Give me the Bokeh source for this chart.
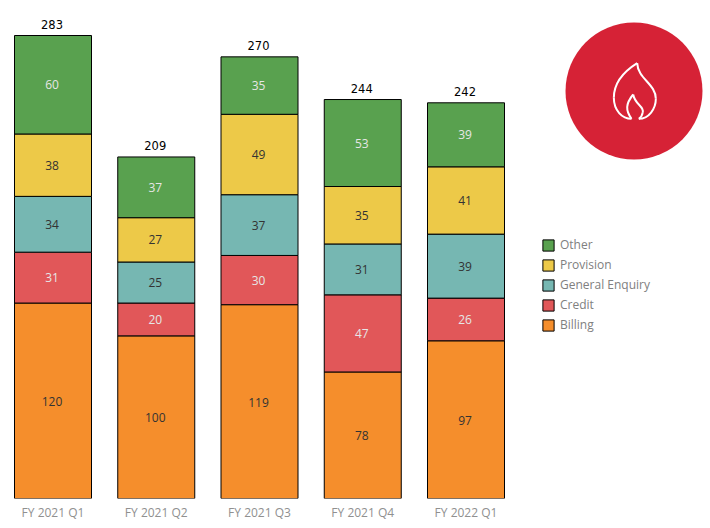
from bokeh.plotting import figure
from bokeh.models import ColumnDataSource, Range1d, FixedTicker, Legend, LegendItem
from bokeh.core.properties import value
from bokeh.embed import file_html
from bokeh.resources import INLINE

quarters = ["FY 2021 Q1", "FY 2021 Q2", "FY 2021 Q3", "FY 2021 Q4", "FY 2022 Q1"]
billing = [120, 100, 119, 78, 97]
credit = [31, 20, 30, 47, 26]
general_enquiry = [34, 25, 37, 31, 39]
provision = [38, 27, 49, 35, 41]
other = [60, 37, 35, 53, 39]
series_names = ["Billing", "Credit", "General Enquiry", "Provision", "Other"]
series_colors = ["#F58E2C", "#E15759", "#76B7B2", "#EDC948", "#59A14F"]
label_colors = ["#333333", "#E6E6E6", "#333333", "#333333", "#E6E6E6"]
series = [billing, credit, general_enquiry, provision, other]

FONT = "Open Sans"
W, H = 710, 528
FRAME_H = 498
BASE = 499.5               # px of baseline (its line falls just below the frame)
PX_X = 103.25              # px per category
X0 = 52.5                  # px of first category
PX_Y = 1.6413              # px per unit

def dx(px):
    return (px - X0) / PX_X

def dy(py):
    return (BASE - py) / PX_Y

p = figure(width=W, height=H, frame_width=W, frame_height=FRAME_H, output_backend="svg", toolbar_location=None,
           x_range=Range1d(dx(0), dx(W)), y_range=Range1d(dy(FRAME_H), dy(0)),
           min_border=0, outline_line_color=None)
p.grid.visible = False
p.yaxis.visible = False
ax = p.xaxis[0]
ax.ticker = FixedTicker(ticks=list(range(len(quarters))))
ax.major_label_overrides = {i: q for i, q in enumerate(quarters)}
ax.axis_line_color = None
ax.major_tick_line_color = None
ax.minor_tick_line_color = None
ax.major_label_text_font = FONT
ax.major_label_text_font_size = "12px"
ax.major_label_text_color = "#909090"
ax.major_label_standoff = -1

xs = list(range(len(quarters)))
bottom = [0] * len(quarters)
items = []
for name, vals, col, lc in zip(series_names, series, series_colors, label_colors):
    top = [b + v for b, v in zip(bottom, vals)]
    src = ColumnDataSource(dict(x=xs, bottom=bottom, top=top, mid=[(b + t) / 2 for b, t in zip(bottom, top)],
                                label=[str(v) for v in vals]))
    r = p.vbar(x="x", bottom="bottom", top="top", width=77 / PX_X, source=src,
               fill_color=col, line_color="#000000", line_width=1, line_join="miter")
    p.text(x="x", y="mid", text="label", source=src, text_align="center", text_baseline="middle",
           x_offset=-1, text_font=value(FONT), text_font_size="12px", text_color=lc)
    items.append(LegendItem(label=name, renderers=[r]))
    bottom = top

p.text(x=xs, y=bottom, text=[str(v) for v in bottom], text_align="center", text_baseline="bottom",
       x_offset=-1, y_offset=-7, text_font=value("DejaVu Sans"), text_font_size="11.5px", text_color="#000000")

legend = Legend(items=items[::-1], location=(541, 165), border_line_color=None,
                background_fill_alpha=0, glyph_width=14, glyph_height=14, spacing=3,
                padding=0, margin=0, label_standoff=5, label_height=14,
                label_text_font=FONT, label_text_font_size="12px", label_text_color="#808080")
p.add_layout(legend, "center")

# badge: red circle with flame icon
p.scatter(x=[dx(633.5)], y=[dy(90.5)], size=137, marker="circle", fill_color="#D62236", line_color=None)
flame_zoom = [
    ((260, 158), (225, 180), (190, 215), (190, 262)),
    ((190, 262), (190, 300), (215, 325), (243, 325)),
    ((243, 325), (225, 300), (225, 280), (248, 252)),
    ((248, 252), (255, 285), (280, 285), (277, 305)),
    ((277, 305), (275, 315), (270, 322), (265, 325)),
    ((265, 325), (295, 325), (316, 295), (316, 265)),
    ((316, 265), (316, 220), (262, 205), (260, 158)),
]
def zx(v):
    return dx(550 + v / 3)
def zy(v):
    return dy(10 + v / 3)
p.bezier(x0=[zx(s[0][0]) for s in flame_zoom], y0=[zy(s[0][1]) for s in flame_zoom],
         x1=[zx(s[3][0]) for s in flame_zoom], y1=[zy(s[3][1]) for s in flame_zoom],
         cx0=[zx(s[1][0]) for s in flame_zoom], cy0=[zy(s[1][1]) for s in flame_zoom],
         cx1=[zx(s[2][0]) for s in flame_zoom], cy1=[zy(s[2][1]) for s in flame_zoom],
         line_color="#FFFFFF", line_width=2)

open("out.html", "w").write(file_html(p, INLINE))
